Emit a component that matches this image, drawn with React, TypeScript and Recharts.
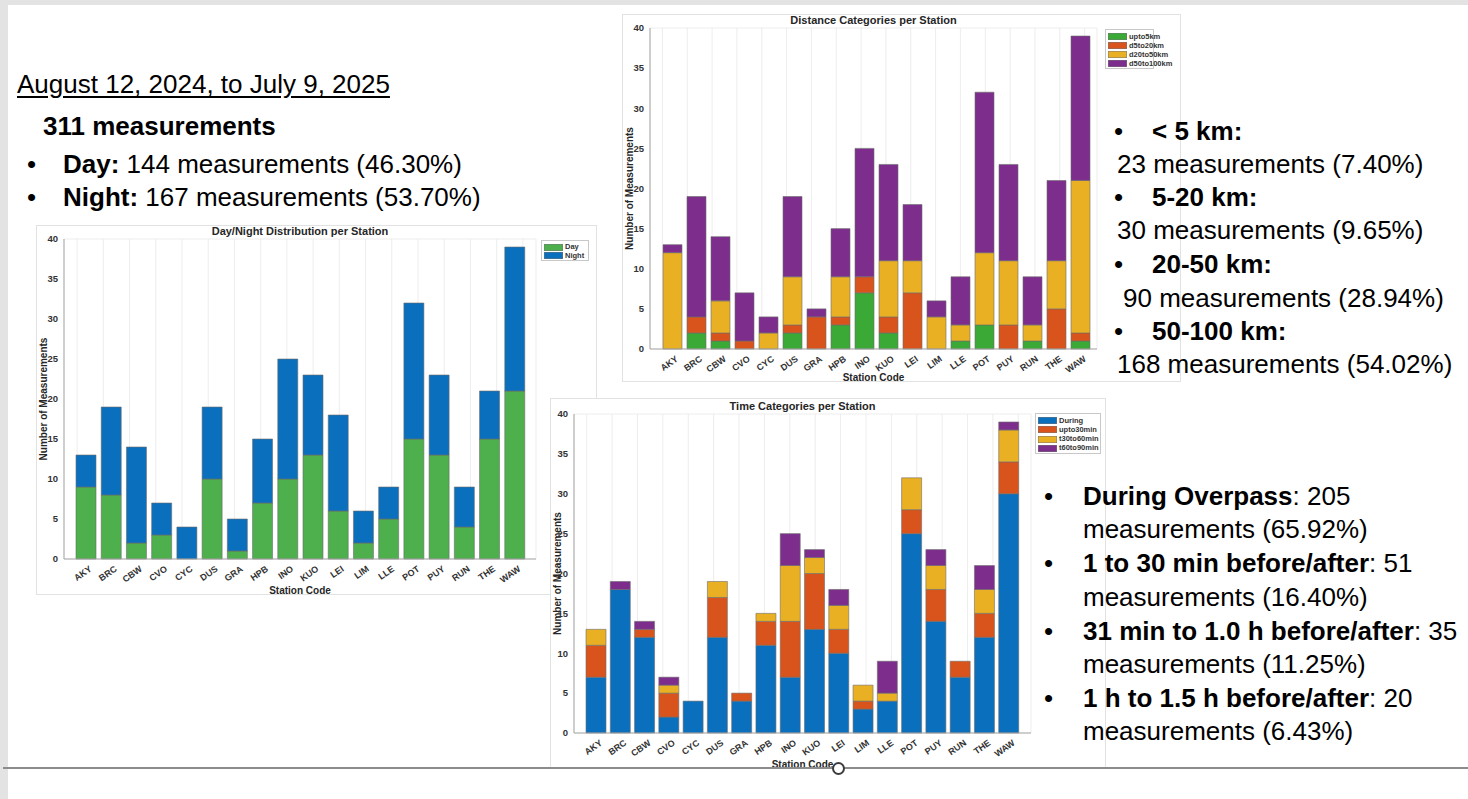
import React from 'react';
import { BarChart, Bar, XAxis, YAxis, CartesianGrid, Legend } from 'recharts';

// ---------- data ----------
const stations = ['AKY', 'BRC', 'CBW', 'CVO', 'CYC', 'DUS', 'GRA', 'HPB', 'INO', 'KUO', 'LEI', 'LIM', 'LLE', 'POT', 'PUY', 'RUN', 'THE', 'WAW'];

const dayCounts = [9, 8, 2, 3, 0, 10, 1, 7, 10, 13, 6, 2, 5, 15, 13, 4, 15, 21];
const nightCounts = [4, 11, 12, 4, 4, 9, 4, 8, 15, 10, 12, 4, 4, 17, 10, 5, 6, 18];

const upto5km = [0, 2, 1, 0, 0, 2, 0, 3, 7, 2, 0, 0, 1, 3, 0, 1, 0, 1];
const d5to20km = [0, 2, 1, 1, 0, 1, 4, 1, 2, 2, 7, 0, 0, 0, 3, 0, 5, 1];
const d20to50km = [12, 0, 4, 0, 2, 6, 0, 5, 0, 7, 4, 4, 2, 9, 8, 2, 6, 19];
const d50to100km = [1, 15, 8, 6, 2, 10, 1, 6, 16, 12, 7, 2, 6, 20, 12, 6, 10, 18];

const during = [7, 18, 12, 2, 4, 12, 4, 11, 7, 13, 10, 3, 4, 25, 14, 7, 12, 30];
const upto30min = [4, 0, 1, 3, 0, 5, 1, 3, 7, 7, 3, 1, 0, 3, 4, 2, 3, 4];
const t30to60min = [2, 0, 0, 1, 0, 2, 0, 1, 7, 2, 3, 2, 1, 4, 3, 0, 3, 4];
const t60to90min = [0, 1, 1, 1, 0, 0, 0, 0, 4, 1, 2, 0, 4, 0, 2, 0, 3, 1];

const yTicks = [0, 5, 10, 15, 20, 25, 30, 35, 40];

const dnData = stations.map((st, i) => ({ st, Day: dayCounts[i], Night: nightCounts[i] }));
const distData = stations.map((st, i) => ({
  st, upto5km: upto5km[i], d5to20km: d5to20km[i], d20to50km: d20to50km[i], d50to100km: d50to100km[i],
}));
const timeData = stations.map((st, i) => ({
  st, During: during[i], upto30min: upto30min[i], t30to60min: t30to60min[i], t60to90min: t60to90min[i],
}));

const dnSeries = [
  { key: 'Day', color: '#4DB04C' },
  { key: 'Night', color: '#0A6FBD' },
];
const distSeries = [
  { key: 'upto5km', color: '#3BA935' },
  { key: 'd5to20km', color: '#D9541C' },
  { key: 'd20to50km', color: '#EAB024' },
  { key: 'd50to100km', color: '#7D2E8D' },
];
const timeSeries = [
  { key: 'During', color: '#0A6FBD' },
  { key: 'upto30min', color: '#D9541C' },
  { key: 't30to60min', color: '#EAB024' },
  { key: 't60to90min', color: '#7D2E8D' },
];

const chartFont = '"Liberation Sans", Arial, sans-serif';
const textFont = '"Liberation Sans", Arial, sans-serif';

type Rect = { x: number; y: number; w: number; h: number };

function StationTick(props: any) {
  const { x, y, payload } = props;
  const ty = y - 2;
  const tx = x + 3;
  return (
    <text
      x={tx}
      y={ty}
      dy="0.72em"
      textAnchor="end"
      transform={`rotate(-35 ${tx} ${ty})`}
      fontFamily={chartFont}
      fontSize={9}
      fontWeight="bold"
      fill="#333"
    >
      {payload.value}
    </text>
  );
}

function StackChart(props: {
  title: string;
  data: any[];
  series: { key: string; color: string }[];
  frame: Rect;
  plot: { l: number; t: number; r: number; b: number };
  legend: Rect;
  barSize: number;
  padL: number;
  padR: number;
  z: number;
}) {
  const { title, data, series, frame, plot, legend, barSize, padL, padR, z } = props;
  const yAxisW = plot.l - frame.x;
  const xAxisH = frame.y + frame.h - plot.b;
  const mTop = plot.t - frame.y;
  const mRight = frame.x + frame.w - plot.r;
  const plotCx = (plot.l + plot.r) / 2 - frame.x;
  const plotCy = (plot.t + plot.b) / 2 - frame.y;
  return (
    <div
      style={{
        position: 'absolute',
        left: frame.x,
        top: frame.y,
        width: frame.w,
        height: frame.h,
        background: '#fff',
        boxShadow: 'inset 0 0 0 1px #e2e2e2',
        zIndex: z,
      }}
    >
      <div
        style={{
          position: 'absolute',
          left: plotCx,
          transform: 'translateX(-50%)',
          top: mTop - 15,
          height: 14,
          lineHeight: '14px',
          whiteSpace: 'nowrap',
          fontFamily: chartFont,
          fontSize: 11,
          fontWeight: 'bold',
          color: '#262626',
        }}
      >
        {title}
      </div>
      <BarChart
        width={frame.w}
        height={frame.h}
        data={data}
        margin={{ top: mTop, right: mRight, bottom: 0, left: 0 }}
        barSize={barSize}
        style={{ position: 'absolute', left: 0, top: 0 }}
      >
        <CartesianGrid stroke="#e9e9e9" strokeWidth={0.8} />
        <XAxis
          dataKey="st"
          xAxisId="b"
          height={xAxisH}
          interval={0}
          padding={{ left: padL, right: padR }}
          tick={<StationTick />}
          tickLine={false}
          axisLine={{ stroke: '#a6a6a6' }}
          label={{
            content: () => (
              <text
                x={plotCx}
                y={plot.b - frame.y + xAxisH - 1}
                textAnchor="middle"
                fontFamily={chartFont}
                fontSize={10}
                fontWeight="bold"
                fill="#262626"
              >
                Station Code
              </text>
            ),
          }}
        />
        <XAxis dataKey="st" xAxisId="t" orientation="top" height={0} tick={false} tickLine={false} axisLine={{ stroke: '#a6a6a6' }} padding={{ left: padL, right: padR }} />
        <YAxis
          yAxisId="l"
          width={yAxisW}
          domain={[0, 40]}
          ticks={yTicks}
          interval={0}
          tickLine={false}
          axisLine={{ stroke: '#a6a6a6' }}
          tick={{ fontFamily: chartFont, fontSize: 9.5, fontWeight: 'bold', fill: '#333' }}
          tickMargin={0}
          label={{
            content: () => (
              <text
                x={7}
                y={plotCy}
                textAnchor="middle"
                dy="0.35em"
                transform={`rotate(-90 7 ${plotCy})`}
                fontFamily={chartFont}
                fontSize={10}
                fontWeight="bold"
                fill="#262626"
              >
                Number of Measurements
              </text>
            ),
          }}
        />
        <YAxis yAxisId="r" orientation="right" width={0} domain={[0, 40]} ticks={yTicks} tick={false} tickLine={false} axisLine={{ stroke: '#a6a6a6' }} />
        <Legend
          layout="vertical"
          align="center"
          verticalAlign="middle"
          wrapperStyle={{
            position: 'absolute',
            left: legend.x - frame.x,
            top: legend.y - frame.y,
            width: legend.w,
            height: legend.h,
            margin: 0,
            padding: 0,
          }}
          content={() => (
            <div
              style={{
                width: legend.w,
                height: legend.h,
                boxSizing: 'border-box',
                border: '1px solid #c8c8c8',
                background: '#fff',
                padding: '2px 1px 0 2px',
              }}
            >
              {series.map((s) => (
                <div key={s.key} style={{ display: 'flex', alignItems: 'center', height: (legend.h - 4) / series.length }}>
                  <span
                    style={{
                      display: 'inline-block',
                      width: 19,
                      height: 7,
                      background: s.color,
                      boxShadow: 'inset 0 0 0 0.5px #777',
                      marginRight: 2,
                      flex: 'none',
                    }}
                  />
                  <span
                    style={{
                      fontFamily: chartFont,
                      fontSize: 7.5,
                      fontWeight: 'bold',
                      color: '#333',
                      whiteSpace: 'nowrap',
                      lineHeight: '8px',
                    }}
                  >
                    {s.key}
                  </span>
                </div>
              ))}
            </div>
          )}
        />
        {series.map((s) => (
          <Bar
            key={s.key}
            dataKey={s.key}
            stackId="s"
            xAxisId="b"
            yAxisId="l"
            fill={s.color}
            stroke="#6b6b6b"
            strokeWidth={0.6}
            isAnimationActive={false}
          />
        ))}
      </BarChart>
    </div>
  );
}

function Line(props: { x: number; y: number; children: React.ReactNode }) {
  return (
    <div
      style={{
        position: 'absolute',
        left: props.x,
        top: props.y - 15,
        height: 30,
        lineHeight: '30px',
        fontFamily: textFont,
        fontSize: 26,
        color: '#000',
        whiteSpace: 'nowrap',
      }}
    >
      {props.children}
    </div>
  );
}

function Bullet(props: { x: number; y: number }) {
  return (
    <div
      style={{
        position: 'absolute',
        left: props.x - 6,
        top: props.y - 15,
        height: 30,
        lineHeight: '30px',
        fontFamily: textFont,
        fontSize: 26,
        color: '#000',
      }}
    >
      •
    </div>
  );
}

export default function App() {
  return (
    <div
      style={{
        position: 'absolute',
        left: 0,
        top: 0,
        width: 1468,
        height: 799,
        background: '#e3e3e3',
        overflow: 'hidden',
      }}
    >
      <div style={{ position: 'absolute', left: 8, top: 5, right: 0, bottom: 0, background: '#fff' }} />

      {/* left text block */}
      <Line x={17} y={84}>
        <span style={{ textDecoration: 'underline', textUnderlineOffset: 3 }}>August 12, 2024, to July 9, 2025</span>
      </Line>
      <Line x={43} y={126}>
        <b>311 measurements</b>
      </Line>
      <Bullet x={33} y={164} />
      <Line x={63} y={164}>
        <b>Day:</b> 144 measurements (46.30%)
      </Line>
      <Bullet x={33} y={197} />
      <Line x={63} y={197}>
        <b>Night:</b> 167 measurements (53.70%)
      </Line>

      <StackChart
        title="Day/Night Distribution per Station"
        data={dnData}
        series={dnSeries}
        frame={{ x: 36, y: 225, w: 561, h: 370 }}
        plot={{ l: 64, t: 239, r: 536, b: 559 }}
        legend={{ x: 541, y: 240, w: 48, h: 21 }}
        barSize={20}
        padL={9}
        padR={9}
        z={1}
      />
      <StackChart
        title="Distance Categories per Station"
        data={distData}
        series={distSeries}
        frame={{ x: 622, y: 14, w: 559, h: 368 }}
        plot={{ l: 650, t: 28, r: 1097, b: 349 }}
        legend={{ x: 1105, y: 29, w: 49, h: 40 }}
        barSize={19}
        padL={10}
        padR={5}
        z={2}
      />
      <StackChart
        title="Time Categories per Station"
        data={timeData}
        series={timeSeries}
        frame={{ x: 550, y: 398, w: 556, h: 371 }}
        plot={{ l: 574, t: 414, r: 1031, b: 733 }}
        legend={{ x: 1035, y: 413, w: 66, h: 41 }}
        barSize={20}
        padL={10}
        padR={10}
        z={3}
      />

      {/* right text block (distance) */}
      <div style={{ position: 'absolute', left: 0, top: 0, zIndex: 4 }}>
        <Bullet x={1120} y={131} />
        <Line x={1152}  y={131}>
          <b>&lt; 5 km:</b>
        </Line>
        <Line x={1117} y={164}>23 measurements (7.40%)</Line>
        <Bullet x={1120} y={197} />
        <Line x={1152} y={197}>
          <b>5-20 km:</b>
        </Line>
        <Line x={1117} y={230}>30 measurements (9.65%)</Line>
        <Bullet x={1120} y={264} />
        <Line x={1152} y={264}>
          <b>20-50 km:</b>
        </Line>
        <Line x={1123} y={298}>90 measurements (28.94%)</Line>
        <Bullet x={1120} y={331} />
        <Line x={1152} y={331}>
          <b>50-100 km:</b>
        </Line>
        <Line x={1117} y={364}>168 measurements (54.02%)</Line>

        {/* time block */}
        <Bullet x={1050} y={496} />
        <Line x={1083} y={496}>
          <b>During Overpass</b>: 205
        </Line>
        <Line x={1083} y={529}>measurements (65.92%)</Line>
        <Bullet x={1050} y={563} />
        <Line x={1083} y={563}>
          <b>1 to 30 min before/after</b>: 51
        </Line>
        <Line x={1083} y={597}>measurements (16.40%)</Line>
        <Bullet x={1050} y={631} />
        <Line x={1083} y={631}>
          <b>31 min to 1.0 h before/after</b>: 35
        </Line>
        <Line x={1083} y={664}>measurements (11.25%)</Line>
        <Bullet x={1050} y={698} />
        <Line x={1083} y={698}>
          <b>1 h to 1.5 h before/after</b>: 20
        </Line>
        <Line x={1083} y={731}>measurements (6.43%)</Line>
      </div>

      {/* bottom slide edge */}
      <div style={{ position: 'absolute', left: 3, right: 0, top: 767, height: 2, background: '#8c8c8c', zIndex: 5 }} />
      <div
        style={{
          position: 'absolute',
          left: 832,
          top: 762,
          width: 9,
          height: 9,
          borderRadius: '50%',
          border: '2px solid #3c3c3c',
          background: '#fff',
          zIndex: 6,
        }}
      />
    </div>
  );
}
